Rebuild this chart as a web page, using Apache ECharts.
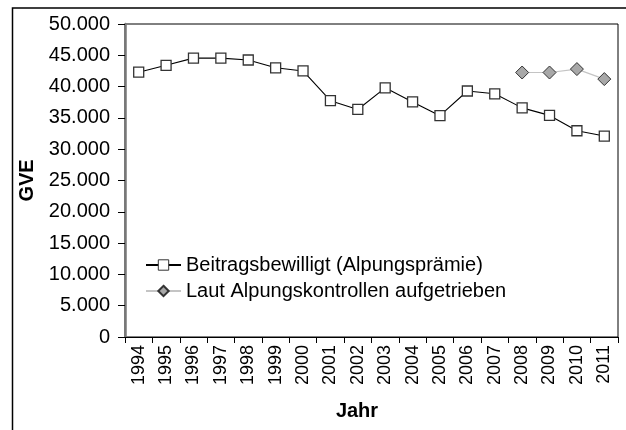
<!DOCTYPE html>
<html><head><meta charset="utf-8">
<script src="https://cdn.jsdelivr.net/npm/echarts@6/dist/echarts.min.js"></script>
<style>html,body{margin:0;padding:0;background:#fff}#c{width:626px;height:430px}</style>
</head><body><div id="c"></div>
<script>
const years = ['1994','1995','1996','1997','1998','1999','2000','2001','2002','2003','2004','2005','2006','2007','2008','2009','2010','2011'];
const beitragsbewilligt = [42300,43400,44550,44550,44250,43000,42500,37750,36350,39800,37550,35350,39300,38850,36600,35400,32950,32100];
const lautKontrollen = [null,null,null,null,null,null,null,null,null,null,null,null,null,null,42250,42250,42800,41200];
const seriesNames = ['Beitragsbewilligt (Alpungsprämie)','Laut Alpungskontrollen aufgetrieben'];
const yTicks = {min:0,max:50000,interval:5000};

const font = 'Liberation Sans, Arial, sans-serif';
const chart = echarts.init(document.getElementById('c'));
chart.setOption({
  animation:false,
  backgroundColor:'#fff',
  textStyle:{fontFamily:font},
  graphic:[{type:'rect',shape:{x:12.5,y:8,width:640,height:440},style:{fill:'none',stroke:'#000',lineWidth:1.5},silent:true,z:-1}],
  title:{text:'Jahr',left:352,top:396,textAlign:'center',textStyle:{fontFamily:font,fontSize:20,fontWeight:'bold',color:'#000'}},
  grid:{left:125,top:24,right:8,bottom:93,show:true,borderColor:'#000',borderWidth:1},
  legend:{left:140,top:250,orient:'vertical',itemGap:6,itemWidth:35,itemHeight:13,
    textStyle:{fontFamily:font,fontSize:20,color:'#000'},
    data:[{name:seriesNames[0],itemStyle:{borderWidth:1}},{name:seriesNames[1]}]},
  xAxis:{type:'category',data:years,boundaryGap:true,
    axisLine:{lineStyle:{color:'#000',width:1}},
    axisTick:{show:true,length:6,lineStyle:{color:'#000'}},
    axisLabel:{rotate:90,fontFamily:font,fontSize:18,color:'#000',margin:8}},
  yAxis:{type:'value',min:yTicks.min,max:yTicks.max,interval:yTicks.interval,
    name:'GVE',nameLocation:'middle',nameGap:85,
    nameTextStyle:{fontFamily:font,fontSize:20,fontWeight:'bold',color:'#000'},
    axisLine:{show:true,lineStyle:{color:'#777',width:2.5}},
    axisTick:{show:true,length:7,lineStyle:{color:'#000'}},
    splitLine:{show:false},
    axisLabel:{fontFamily:font,fontSize:20,color:'#000',margin:15,
      formatter:v=>v===0?'0':(Math.floor(v/1000))+'.'+String(v%1000).padStart(3,'0')}},
  series:[
    {name:seriesNames[0],type:'line',data:beitragsbewilligt,symbol:'rect',symbolSize:10,
      lineStyle:{color:'#000',width:1.1},itemStyle:{color:'#fff',borderColor:'#333',borderWidth:1.3},z:3},
    {name:seriesNames[1],type:'line',data:lautKontrollen,symbol:'diamond',symbolSize:[13,13],
      lineStyle:{color:'#c4c4c4',width:1.2},itemStyle:{color:'#a8a8a8',borderColor:'#333',borderWidth:1},z:2}
  ]
});
</script></body></html>
